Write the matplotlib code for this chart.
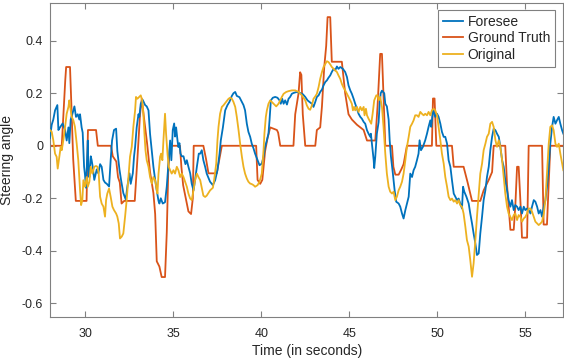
import matplotlib
matplotlib.use("Agg")
import matplotlib.pyplot as plt

plt.rcParams['font.family'] = ['Liberation Sans', 'DejaVu Sans']
plt.rcParams['axes.unicode_minus'] = False

# ---------------- data ----------------
series_names = ["Foresee", "Ground Truth", "Original"]

fore_t = [27.98, 28.08, 28.17, 28.27, 28.40, 28.46, 28.55, 28.70, 28.84, 28.93, 29.03, 29.08, 29.16,
          29.25, 29.37, 29.46, 29.56, 29.65, 29.69, 29.78, 29.84, 29.92, 29.97, 30.03, 30.13, 30.16,
          30.22, 30.30, 30.35, 30.41, 30.50, 30.64, 30.73, 30.83, 30.92, 31.02, 31.11, 31.21, 31.34,
          31.43, 31.51, 31.62, 31.74, 31.81, 31.93, 32.02, 32.15, 32.29, 32.38, 32.50, 32.57, 32.69,
          32.76, 32.82, 32.91, 33.01, 33.06, 33.14, 33.25, 33.39, 33.48, 33.58, 33.67, 33.77, 33.86,
          33.96, 34.05, 34.15, 34.20, 34.28, 34.39, 34.52, 34.62, 34.71, 34.81, 34.88, 34.96, 35.04,
          35.09, 35.15, 35.23, 35.28, 35.34, 35.40, 35.47, 35.57, 35.68, 35.76, 35.85, 35.95, 36.04,
          36.14, 36.23, 36.33, 36.44, 36.52, 36.61, 36.70, 36.80, 36.89, 37.08, 37.24, 37.37, 37.50,
          37.62, 37.69, 37.81, 37.94, 38.07, 38.18, 38.32, 38.41, 38.51, 38.60, 38.75, 38.89, 38.98,
          39.07, 39.17, 39.26, 39.36, 39.45, 39.55, 39.64, 39.78, 39.89, 40.02, 40.12, 40.21, 40.31,
          40.40, 40.46, 40.535, 40.65, 40.78, 40.91, 41.03, 41.10, 41.18, 41.26, 41.35, 41.45, 41.54,
          41.63, 41.73, 41.82, 42.01, 42.20, 42.36, 42.49, 42.62, 42.73, 42.87, 42.96, 43.06, 43.15,
          43.25, 43.34, 43.44, 43.53, 43.63, 43.72, 43.81, 43.91, 44.0, 44.1, 44.19, 44.29, 44.38,
          44.48, 44.63, 44.76, 44.86, 44.95, 45.05, 45.14, 45.24, 45.33, 45.43, 45.52, 45.62, 45.71,
          45.81, 45.90, 46.0, 46.09, 46.19, 46.22, 46.28, 46.38, 46.41, 46.47, 46.56, 46.66, 46.72,
          46.78, 46.85, 46.98, 47.04, 47.13, 47.23, 47.29, 47.36, 47.47, 47.57, 47.66, 47.80, 47.89,
          47.99, 48.08, 48.18, 48.27, 48.37, 48.46, 48.56, 48.65, 48.74, 48.84, 48.93, 48.99, 49.07,
          49.18, 49.31, 49.41, 49.50, 49.6, 49.65, 49.75, 49.83, 49.88, 49.98, 50.07, 50.17, 50.26,
          50.36, 50.45, 50.55, 50.64, 50.74, 50.83, 50.93, 51.02, 51.12, 51.21, 51.30, 51.40, 51.46,
          51.53, 51.65, 51.78, 51.87, 51.97, 52.06, 52.16, 52.25, 52.35, 52.44, 52.54, 52.63, 52.73,
          52.82, 52.92, 53.01, 53.11, 53.20, 53.30, 53.39, 53.49, 53.58, 53.68, 53.77, 53.86, 53.96,
          54.05, 54.15, 54.24, 54.34, 54.43, 54.53, 54.62, 54.72, 54.81, 54.91, 55.0, 55.10, 55.19,
          55.29, 55.38, 55.48, 55.57, 55.67, 55.76, 55.86, 55.95, 56.05, 56.14, 56.23, 56.33, 56.42,
          56.52, 56.61, 56.71, 56.80, 56.90, 56.99, 57.09, 57.16]
fore_v = [0.03, 0.08, 0.10, 0.135, 0.155, 0.06, 0.07, 0.085, 0.06, 0.02, 0.07, 0.01, 0.10,
          0.12, 0.15, 0.11, 0.12, 0.10, 0.12, 0.07, 0.05, -0.08, -0.11, -0.16, 0.02, -0.08,
          -0.12, -0.04, -0.055, -0.08, -0.13, -0.09, -0.105, -0.07, -0.08, -0.13, -0.14, -0.145, -0.155,
          -0.055, 0.02, 0.06, 0.065, -0.02, -0.09, -0.13, -0.18, -0.205, -0.155, -0.105, -0.145, -0.105,
          -0.04, -0.005, 0.07, 0.12, 0.11, 0.16, 0.175, 0.155, 0.15, 0.135, 0.045, -0.02, -0.08,
          -0.13, -0.17, -0.21, -0.22, -0.20, -0.22, -0.215, -0.155, -0.07, 0.02, -0.055, 0.06, 0.085,
          0.035, 0.07, 0.02, -0.005, 0.01, -0.03, -0.04, -0.04, -0.07, -0.055, -0.08, -0.105, -0.145,
          -0.17, -0.13, -0.08, -0.03, -0.03, -0.017, -0.055, -0.08, -0.106, -0.137, -0.15, -0.131, -0.093,
          -0.03, 0.02, 0.07, 0.135, 0.155, 0.167, 0.19, 0.20, 0.205, 0.19, 0.185, 0.167, 0.155,
          0.135, 0.084, 0.053, 0.034, 0.008, -0.01, -0.03, -0.055, -0.074, -0.068, -0.042, -0.004, 0.021,
          0.046, 0.097, 0.173, 0.183, 0.186, 0.183, 0.173, 0.16, 0.179, 0.16, 0.173, 0.157, 0.179,
          0.186, 0.198, 0.201, 0.205, 0.201, 0.196, 0.186, 0.173, 0.167, 0.160, 0.148, 0.167, 0.186,
          0.192, 0.205, 0.214, 0.23, 0.243, 0.249, 0.259, 0.268, 0.281, 0.293, 0.287, 0.302, 0.293,
          0.300, 0.293, 0.281, 0.262, 0.230, 0.211, 0.198, 0.179, 0.160, 0.141, 0.122, 0.110, 0.103,
          0.091, 0.084, 0.059, 0.046, 0.034, 0.046, 0.008, -0.055, -0.085, -0.042, 0.046, 0.09, 0.16,
          0.20, 0.21, 0.20, 0.16, 0.15, 0.10, 0.02, -0.04, -0.105, -0.169, -0.213, -0.22, -0.232,
          -0.258, -0.277, -0.245, -0.22, -0.194, -0.106, -0.119, -0.093, -0.08, -0.055, -0.03, 0.021, -0.017,
          -0.004, 0.021, 0.046, 0.072, 0.097, 0.072, 0.135, 0.122, 0.11, 0.122, 0.11, 0.084, 0.053,
          0.034, 0.034, 0.008, -0.055, -0.08, -0.131, -0.182, -0.194, -0.207, -0.201, -0.22, -0.239, -0.156,
          -0.175, -0.194, -0.22, -0.258, -0.296, -0.334, -0.372, -0.416, -0.41, -0.334, -0.27, -0.207, -0.169,
          -0.119, -0.08, -0.017, 0.034, 0.065, 0.059, 0.046, 0.034, -0.004, -0.055, -0.08, -0.131, -0.169,
          -0.207, -0.232, -0.207, -0.245, -0.226, -0.232, -0.245, -0.232, -0.258, -0.232, -0.245, -0.239, -0.245,
          -0.258, -0.232, -0.207, -0.213, -0.232, -0.258, -0.245, -0.27, -0.232, -0.207, -0.156, -0.08, 0.008,
          0.072, 0.11, 0.084, 0.097, 0.11, 0.084, 0.059, 0.046]

gt_t = [27.98, 28.65, 28.85, 28.9, 29.12, 29.2, 29.3, 29.45, 30.06, 30.14, 30.6, 30.7, 31.45,
        31.55, 31.75, 31.85, 31.95, 32.05, 32.2, 32.8, 32.95, 33.1, 33.2, 33.3, 33.5, 33.67,
        33.86, 33.96, 34.05, 34.2, 34.33, 34.52, 34.62, 34.71, 34.81, 35.37, 35.45, 35.55, 35.7,
        35.85, 36.0, 36.1, 36.15, 36.7, 36.85, 36.99, 37.46, 37.75, 39.7, 39.78, 39.93, 40.05,
        40.21, 40.35, 40.50, 40.88, 40.95, 41.07, 41.82, 41.92, 42.11, 42.20, 42.27, 42.35, 42.49,
        43.06, 43.15, 43.34, 43.44, 43.57, 43.68, 43.76, 43.91, 44.0, 44.57, 44.76, 44.95, 45.14,
        45.43, 45.81, 46.0, 46.47, 46.6, 46.75, 46.85, 46.95, 47.04, 47.42, 47.5, 47.61, 47.80,
        47.95, 48.08, 48.27, 49.69, 49.75, 49.84, 49.94, 50.83, 50.93, 51.49, 51.72, 51.97, 52.44,
        52.63, 52.92, 53.11, 53.2, 53.86, 53.96, 54.05, 54.15, 54.34, 54.43, 54.53, 54.62, 54.75,
        54.81, 55.1, 55.19, 55.95, 56.04, 56.23, 56.42, 57.16]
gt_v = [0.0, 0.0, 0.25, 0.30, 0.30, 0.15, -0.05, -0.21, -0.21, 0.06, 0.06, 0.0, 0.0,
        -0.04, -0.06, -0.12, -0.14, -0.22, -0.21, -0.21, -0.05, 0.12, 0.18, 0.12, 0.01, -0.10,
        -0.18, -0.26, -0.44, -0.46, -0.50, -0.50, -0.33, -0.08, 0.0, 0.0, -0.08, -0.15, -0.20,
        -0.25, -0.26, -0.20, 0.0, 0.0, -0.05, -0.105, -0.105, 0.0, 0.0, -0.13, -0.145, -0.13,
        -0.02, 0.03, 0.07, 0.06, 0.05, 0.0, 0.0, 0.12, 0.20, 0.28, 0.27, 0.12, 0.0,
        0.0, 0.06, 0.07, 0.15, 0.30, 0.38, 0.49, 0.49, 0.32, 0.32, 0.20, 0.12, 0.10,
        0.08, 0.06, 0.02, 0.02, 0.15, 0.35, 0.35, 0.17, 0.0, 0.0, -0.08, -0.11, -0.11,
        -0.09, -0.07, 0.0, 0.0, 0.18, 0.18, 0.0, 0.0, -0.08, -0.08, -0.14, -0.21, -0.21,
        -0.17, -0.13, -0.10, 0.0, 0.0, -0.15, -0.23, -0.32, -0.32, -0.23, -0.08, -0.08, -0.25,
        -0.35, -0.35, 0.0, 0.0, -0.30, -0.30, 0.0, 0.0]

orig_t = [27.98, 28.08, 28.17, 28.27, 28.36, 28.42, 28.51, 28.59, 28.65, 28.74, 28.84, 28.93, 29.03,
          29.08, 29.16, 29.22, 29.31, 29.40, 29.50, 29.59, 29.69, 29.75, 29.82, 29.88, 29.97, 30.07,
          30.13, 30.22, 30.30, 30.39, 30.50, 30.60, 30.68, 30.75, 30.83, 30.92, 31.02, 31.11, 31.17,
          31.24, 31.34, 31.43, 31.53, 31.62, 31.74, 31.81, 31.89, 31.96, 32.06, 32.15, 32.25, 32.34,
          32.44, 32.53, 32.63, 32.72, 32.82, 32.87, 32.95, 33.05, 33.14, 33.22, 33.29, 33.35, 33.41,
          33.48, 33.58, 33.67, 33.77, 33.86, 33.96, 34.05, 34.09, 34.15, 34.24, 34.30, 34.37, 34.43,
          34.52, 34.58, 34.66, 34.73, 34.81, 34.90, 35.0, 35.09, 35.19, 35.28, 35.38, 35.47, 35.57,
          35.66, 35.76, 35.85, 35.95, 36.04, 36.14, 36.23, 36.33, 36.42, 36.52, 36.61, 36.70, 36.80,
          36.89, 37.08, 37.24, 37.31, 37.43, 37.50, 37.56, 37.65, 37.75, 37.84, 37.99, 38.13, 38.22,
          38.32, 38.41, 38.51, 38.60, 38.70, 38.79, 38.89, 38.98, 39.07, 39.17, 39.26, 39.36, 39.45,
          39.55, 39.64, 39.78, 39.89, 40.02, 40.12, 40.17, 40.25, 40.31, 40.40, 40.50, 40.59, 40.69,
          40.84, 40.97, 41.07, 41.16, 41.26, 41.41, 41.54, 41.73, 41.92, 42.11, 42.30, 42.49, 42.58,
          42.68, 42.77, 42.87, 42.96, 43.06, 43.15, 43.25, 43.34, 43.44, 43.53, 43.63, 43.72, 43.81,
          43.91, 44.0, 44.10, 44.19, 44.29, 44.38, 44.48, 44.57, 44.67, 44.76, 44.86, 44.95, 45.05,
          45.14, 45.20, 45.27, 45.33, 45.43, 45.52, 45.62, 45.71, 45.81, 45.86, 45.94, 46.0, 46.09,
          46.19, 46.24, 46.32, 46.41, 46.53, 46.60, 46.66, 46.75, 46.85, 46.94, 47.04, 47.13, 47.23,
          47.32, 47.42, 47.51, 47.61, 47.70, 47.80, 47.89, 47.99, 48.08, 48.18, 48.27, 48.37, 48.46,
          48.56, 48.65, 48.74, 48.84, 48.93, 49.03, 49.12, 49.22, 49.31, 49.41, 49.50, 49.6, 49.69,
          49.79, 49.88, 49.98, 50.07, 50.17, 50.26, 50.36, 50.45, 50.55, 50.64, 50.74, 50.83, 50.93,
          51.02, 51.12, 51.21, 51.30, 51.40, 51.49, 51.59, 51.68, 51.78, 51.87, 51.97, 52.06, 52.16,
          52.25, 52.35, 52.44, 52.54, 52.63, 52.73, 52.82, 52.92, 53.01, 53.11, 53.20, 53.30, 53.39,
          53.49, 53.58, 53.68, 53.77, 53.86, 53.96, 54.05, 54.15, 54.24, 54.34, 54.43, 54.53, 54.62,
          54.72, 54.81, 54.91, 55.0, 55.10, 55.19, 55.29, 55.38, 55.48, 55.57, 55.67, 55.76, 55.86,
          55.95, 56.05, 56.14, 56.23, 56.33, 56.42, 56.52, 56.61, 56.71, 56.80, 56.90, 56.99, 57.09,
          57.16]
orig_v = [0.06, 0.053, 0.021, -0.03, -0.042, -0.087, -0.042, -0.004, -0.017, 0.021, 0.072, 0.122, 0.148,
          0.173, 0.135, 0.11, 0.097, 0.072, 0.008, -0.055, -0.169, -0.226, -0.207, -0.131, -0.156, -0.119,
          -0.156, -0.137, -0.08, -0.106, -0.08, -0.077, -0.08, -0.106, -0.194, -0.22, -0.232, -0.27, -0.207,
          -0.182, -0.163, -0.194, -0.232, -0.245, -0.258, -0.27, -0.296, -0.353, -0.346, -0.334, -0.27, -0.207,
          -0.119, -0.042, -0.004, 0.072, 0.135, 0.186, 0.179, 0.186, 0.192, 0.173, 0.122, 0.046, -0.017,
          -0.055, -0.08, -0.119, -0.144, -0.119, -0.131, -0.169, -0.182, -0.106, -0.042, -0.03, -0.055, 0.021,
          0.122, 0.046, -0.03, -0.08, -0.093, -0.106, -0.093, -0.106, -0.08, -0.093, -0.119, -0.106, -0.119,
          -0.137, -0.156, -0.182, -0.201, -0.207, -0.169, -0.131, -0.106, -0.119, -0.131, -0.16, -0.19, -0.195,
          -0.19, -0.17, -0.16, -0.131, -0.068, 0.021, 0.072, 0.122, 0.148, 0.154, 0.167, 0.179, 0.183,
          0.179, 0.167, 0.148, 0.11, 0.059, 0.008, -0.042, -0.08, -0.106, -0.125, -0.137, -0.144, -0.146,
          -0.15, -0.156, -0.15, -0.137, -0.106, -0.017, 0.046, 0.11, 0.135, 0.160, 0.173, 0.167, 0.160,
          0.15, 0.16, 0.173, 0.186, 0.198, 0.205, 0.208, 0.211, 0.211, 0.205, 0.192, 0.173, 0.154,
          0.141, 0.137, 0.154, 0.179, 0.188, 0.198, 0.224, 0.255, 0.281, 0.300, 0.312, 0.322, 0.319,
          0.31, 0.300, 0.293, 0.287, 0.281, 0.268, 0.255, 0.236, 0.221, 0.211, 0.198, 0.186, 0.173,
          0.160, 0.135, 0.148, 0.135, 0.148, 0.129, 0.148, 0.135, 0.148, 0.116, 0.141, 0.116, 0.103,
          0.09, 0.084, 0.122, 0.173, 0.192, 0.192, 0.173, 0.186, 0.148, 0.072, -0.03, -0.106, -0.156,
          -0.175, -0.182, -0.175, -0.207, -0.194, -0.169, -0.156, -0.137, -0.106, -0.055, -0.004, 0.034, 0.072,
          0.084, 0.097, 0.116, 0.116, 0.11, 0.129, 0.122, 0.116, 0.122, 0.116, 0.129, 0.116, 0.135,
          0.141, 0.135, 0.116, 0.072, 0.021, -0.03, -0.068, -0.119, -0.156, -0.194, -0.207, -0.201, -0.213,
          -0.207, -0.22, -0.207, -0.226, -0.232, -0.258, -0.308, -0.359, -0.384, -0.435, -0.499, -0.448, -0.359,
          -0.271, -0.182, -0.106, -0.068, -0.017, 0.008, 0.034, 0.046, 0.084, 0.091, 0.072, 0.021, -0.004,
          0.021, -0.004, -0.055, -0.119, -0.182, -0.232, -0.258, -0.271, -0.283, -0.264, -0.258, -0.283, -0.264,
          -0.271, -0.289, -0.277, -0.271, -0.258, -0.239, -0.239, -0.251, -0.271, -0.289, -0.296, -0.302, -0.296,
          -0.289, -0.258, -0.207, -0.106, 0.008, 0.072, 0.078, 0.059, 0.008, -0.004, 0.008, -0.03, -0.068,
          -0.093]

x_ticks = [30, 35, 40, 45, 50, 55]
y_ticks = [-0.6, -0.4, -0.2, 0, 0.2, 0.4]
y_tick_labels = ["-0.6", "-0.4", "-0.2", "0", "0.2", "0.4"]
colors = ["#0072BD", "#D95319", "#EDB120"]

# ---------------- plot ----------------
fig = plt.figure(figsize=(5.64, 3.58), dpi=100)
ax = fig.add_axes([0.0892, 0.1154, 0.9090, 0.8771])

ax.plot(fore_t, fore_v, color=colors[0], lw=1.3, label=series_names[0], zorder=3)
ax.plot(gt_t, gt_v, color=colors[1], lw=1.3, label=series_names[1], zorder=2)
ax.plot(orig_t, orig_v, color=colors[2], lw=1.3, label=series_names[2], zorder=4)

ax.set_xlim(28.0, 57.14)
ax.set_ylim(-0.651, 0.545)
ax.set_xticks(x_ticks)
ax.set_yticks(y_ticks)
ax.set_yticklabels(y_tick_labels)

for s in ax.spines.values():
    s.set_color("#808080")
    s.set_linewidth(0.8)
ax.tick_params(direction="in", length=4.5, width=0.8, color="#808080",
               labelcolor="#262626", labelsize=9, top=True, right=True)
ax.tick_params(axis="x", pad=8)
ax.tick_params(axis="y", pad=5)

ax.set_xlabel("Time (in seconds)", fontsize=10, color="#262626", labelpad=3)
ax.set_ylabel("Steering angle", fontsize=10, color="#262626")
ax.yaxis.set_label_coords(-0.071, 0.5)

leg = ax.legend(loc="upper right", bbox_to_anchor=(0.984, 0.977), borderaxespad=0,
                fontsize=10, handlelength=1.5, handletextpad=0.3, labelspacing=0.18,
                borderpad=0.35, fancybox=False, framealpha=1, edgecolor="#808080")
leg.get_frame().set_linewidth(0.8)
for t in leg.get_texts():
    t.set_color("#262626")

fig.savefig("out.png", dpi=100)
